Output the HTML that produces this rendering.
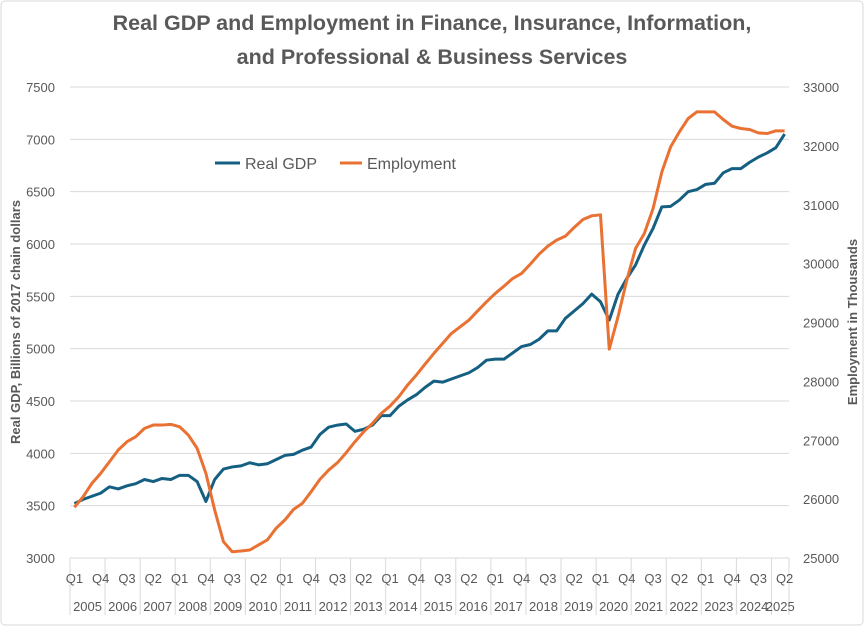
<!DOCTYPE html>
<html><head><meta charset="utf-8"><style>
body{margin:0;background:#fff;}
svg text{font-family:"Liberation Sans",sans-serif;}
</style></head><body>
<svg id="chart" width="865" height="627" viewBox="0 0 865 627" xmlns="http://www.w3.org/2000/svg">
<rect x="1" y="1" width="862" height="624" rx="4" fill="#fff" stroke="#d9d9d9"/>
<text x="432" y="30" text-anchor="middle" font-size="21.5" font-weight="bold" fill="#595959">Real GDP and Employment in Finance, Insurance, Information,</text>
<text x="432" y="64" text-anchor="middle" font-size="21.5" font-weight="bold" fill="#595959">and Professional &amp; Business Services</text>
<g id="grid"></g><g id="axes"></g><g id="series"></g>
<g>
<line x1="215" y1="163" x2="240" y2="163" stroke="#156082" stroke-width="3"/>
<text x="245" y="169" font-size="16" fill="#595959">Real GDP</text>
<line x1="340" y1="163" x2="362" y2="163" stroke="#e97132" stroke-width="3"/>
<text x="367" y="169" font-size="16" fill="#595959">Employment</text>
</g>
<text transform="translate(20,322) rotate(-90)" text-anchor="middle" font-size="13" font-weight="bold" fill="#595959">Real GDP, Billions of 2017 chain dollars</text>
<text transform="translate(857,322) rotate(-90)" text-anchor="middle" font-size="13" font-weight="bold" fill="#595959">Employment in Thousands</text>
</svg>
<script>
const years=["2005","2006","2007","2008","2009","2010","2011","2012","2013","2014","2015","2016","2017","2018","2019","2020","2021","2022","2023","2024","2025"];
const leftTicks=[3000,3500,4000,4500,5000,5500,6000,6500,7000,7500];
const rightTicks=[25000,26000,27000,28000,29000,30000,31000,32000,33000];
const gdp=[3520,3560,3590,3620,3680,3660,3690,3710,3750,3730,3760,3750,3790,3790,3730,3540,3750,3850,3870,3880,3910,3890,3900,3940,3980,3990,4030,4060,4180,4250,4270,4280,4210,4230,4270,4360,4360,4450,4510,4560,4630,4690,4680,4710,4740,4770,4820,4890,4900,4900,4960,5020,5040,5090,5170,5170,5290,5360,5430,5521,5448,5273,5520,5670,5800,5990,6150,6355,6360,6420,6500,6520,6570,6580,6680,6720,6720,6780,6830,6870,6920,7050];
const employment=[25861,26041,26268,26438,26635,26834,26975,27060,27202,27258,27258,27270,27229,27088,26862,26438,25815,25277,25107,25119,25136,25221,25306,25504,25645,25826,25928,26126,26336,26494,26619,26788,26975,27145,27287,27457,27581,27739,27937,28107,28294,28475,28645,28815,28927,29041,29199,29352,29494,29618,29749,29833,29992,30161,30297,30399,30467,30614,30750,30812,30829,28548,29097,29720,30258,30512,30937,31559,31983,32238,32465,32578,32578,32578,32448,32334,32295,32278,32221,32210,32255,32255];
const NS="http://www.w3.org/2000/svg";
const X0=70,X1=789,YB=558,YT=87;
const n=gdp.length, step=(X1-X0)/n;
const xc=i=>X0+(i+0.5)*step;
const yL=v=>YB-(v-3000)/4500*(YB-YT);
const yR=v=>YB-(v-25000)/8000*(YB-YT);
function mk(tag,attrs,parent){const e=document.createElementNS(NS,tag);for(const k in attrs)e.setAttribute(k,attrs[k]);document.getElementById(parent).appendChild(e);return e;}
leftTicks.forEach(v=>{
 const l=mk('line',{x1:X0,x2:X1,y1:yL(v),y2:yL(v),stroke:'#d9d9d9','stroke-width':1},'grid');
 
 
 const t=mk('text',{x:55,y:yL(v)+5,'text-anchor':'end','font-size':13,fill:'#595959'},'axes');
 t.textContent=v;
 
 
});
rightTicks.forEach(v=>{
 const t=mk('text',{x:803,y:yR(v)+5,'font-size':13,fill:'#595959'},'axes');
 t.textContent=v;
 
 
});
for(let i=0;i<n;i+=4){
 const x=X0+i*step;
 const l=mk('line',{x1:x,x2:x,y1:YB,y2:615,stroke:'#d9d9d9'},'axes');
 
 
}
const le=mk('line',{x1:X1,x2:X1,y1:YB,y2:615,stroke:'#d9d9d9'},'axes');


for(let i=0;i<n;i+=3){
 const t=mk('text',{x:xc(i),y:583,'text-anchor':'middle','font-size':13,fill:'#595959'},'axes');
 t.textContent='Q'+(i%4+1);
 
 
}
years.forEach((y,k)=>{
 const a=k*4,b=Math.min(n,a+4);
 const t=mk('text',{x:X0+(a+b)/2*step,y:611,'text-anchor':'middle','font-size':13,fill:'#595959'},'axes');
 t.textContent=y;
 
 
});
const p1=mk('polyline',{points:gdp.map((v,i)=>xc(i)+','+yL(v)).join(' '),fill:'none',stroke:'#156082','stroke-width':3,'stroke-linejoin':'round'},'series');


const p2=mk('polyline',{points:employment.map((v,i)=>xc(i)+','+yR(v)).join(' '),fill:'none',stroke:'#e97132','stroke-width':3,'stroke-linejoin':'round'},'series');


</script>
</body></html>
